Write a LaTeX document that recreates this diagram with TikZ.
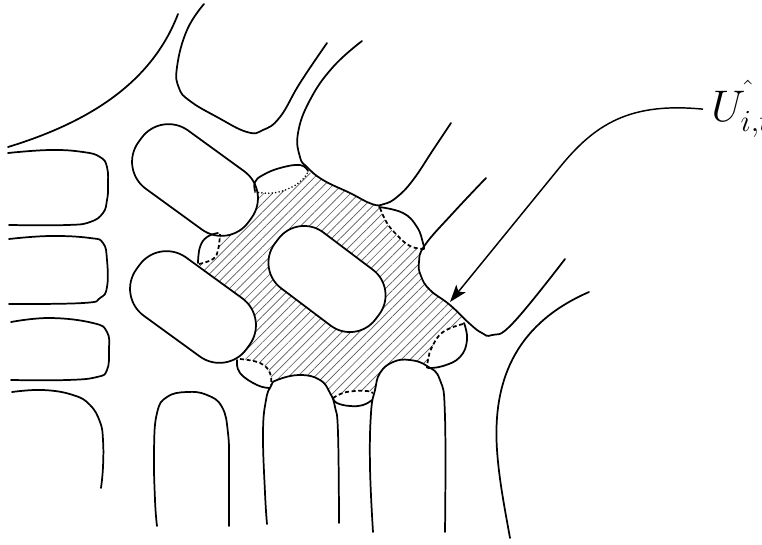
\documentclass[tikz,border=0pt]{standalone}
\usepackage{graphicx}
\usetikzlibrary{arrows.meta, patterns.meta}

\begin{document}
\begin{tikzpicture}[
    x=0.75pt, y=-0.75pt, tension=0.75,
    outline/.style={line width=1.3pt, line cap=round, line join=round},
    rim/.style={line width=1.3pt, dash pattern=on 3pt off 2pt},
    dotrim/.style={line width=1.3pt, line cap=round, dash pattern=on 0pt off 2.6pt},
    hatch/.style={pattern={Lines[angle=45, distance=4.6pt, line width=0.5pt]}, pattern color=black!65},
    oval/.style={outline, fill=white, rounded corners=25pt},
    arrow/.style={-{Stealth[length=13pt, width=9pt, inset=3pt]}, line width=1.1pt},
    lbl/.style={font=\huge, inner xsep=6pt, inner ysep=0pt}
  ]
    \useasboundingbox (0,0) rectangle (762,544);

    % hatched part of the cell
    \fill[hatch] plot[smooth] coordinates {(255,192) (273,193) (290,188) (302,180) (308,172)}
      -- (340,180) -- (378,200)
      -- plot[smooth] coordinates {(380,208) (387,223) (397,235) (410,246) (424,249)}
      -- (435,262) -- (448,290) -- (465,315)
      -- plot[smooth] coordinates {(463,324) (443,332) (432,347) (428,360) (427,368)}
      -- (415,372) -- (385,385)
      -- plot[smooth] coordinates {(373,393) (367,391) (355,391) (343,393) (333,398)}
      -- (320,392) -- (285,390) -- (272,392)
      -- plot[smooth] coordinates {(271,385) (270,373) (260,363) (240,359)}
      -- (235,340) -- (215,300) -- (205,280)
      -- plot[smooth] coordinates {(199,264) (213,259) (218,250) (220,234)}
      -- (235,220) -- (245,200) -- cycle;

    \fill[white] plot[smooth] coordinates {(362,41) (333,67) (310,100) (298,133) (300,157) (307,167) (323,180) (350,193) (372,204) (384,204) (397,197) (413,180) (433,150) (451,123)} -- cycle;
    \fill[white] plot[smooth] coordinates {(486,178) (453,213) (425,245) (419,262) (421,276) (430,290) (450,305) (470,324) (482,333) (492,335) (513,323) (565,259)} -- cycle;
    \fill[white] plot[smooth] coordinates {(267,524) (265,493) (263,433) (266,400) (271,386) (277,380) (300,375) (320,380) (330,393) (335,407) (338,433) (339,523)} -- cycle;
    \fill[white] plot[smooth] coordinates {(373,532) (370,467) (371,413) (375,390) (380,373) (393,362) (410,360) (427,366) (440,380) (445,417) (445,532)} -- cycle;

    % ovals
    \draw[oval, rotate around={-36:(195,180)}] (127,144) rectangle (263,216);
    \draw[oval, rotate around={-36:(193,307)}] (125,271) rectangle (261,343);
    \draw[oval, rounded corners=24pt, rotate around={-37:(327,279)}] (264,244) rectangle (390,314);

    % top
    \draw[outline] (8,147) .. controls (90,122) and (152,82) .. (178,14);
    \draw[outline] plot[smooth] coordinates {(204,4) (187,30) (177,67) (179,88) (190,101) (217,117) (247,132) (263,130) (280,117) (300,83) (327,43)};
    \draw[outline] plot[smooth] coordinates {(362,41) (333,67) (310,100) (298,133) (300,157) (307,167) (323,180) (350,193) (372,204) (384,204) (397,197) (413,180) (433,150) (451,123)};
    \draw[outline] plot[smooth] coordinates {(486,178) (453,213) (425,245) (419,262) (421,276) (430,290) (450,305) (470,324) (482,333) (492,335) (513,323) (565,259)};
    \draw[outline] (589,292) .. controls (520,322) and (492,375) .. (497,450) .. controls (499,480) and (505,510) .. (510,538);

    % left
    \draw[outline] plot[smooth] coordinates {(8,153) (50,150) (83,152) (100,157) (107,167) (108,187) (107,200) (103,213) (90,222) (67,225) (9,225)};
    \draw[outline] plot[smooth] coordinates {(9,239) (50,236) (90,238) (103,243) (107,260) (107,287) (100,298) (83,303) (9,304)};
    \draw[outline] plot[smooth] coordinates {(11,322) (50,318) (93,323) (107,332) (109,350) (107,370) (97,377) (67,380) (11,380)};
    \draw[outline] plot[smooth] coordinates {(12,392) (43,390) (73,395) (90,405) (100,422) (103,440) (103,467) (101,488)};

    % bottom
    \draw[outline] plot[smooth] coordinates {(157,526) (155,500) (154,450) (157,413) (167,397) (187,392) (207,395) (222,407) (228,433) (229,467) (229,526)};
    \draw[outline] plot[smooth] coordinates {(267,524) (265,493) (263,433) (266,400) (271,386) (277,380) (300,375) (320,380) (330,393) (335,407) (338,433) (339,523)};
    \draw[outline] plot[smooth] coordinates {(373,532) (370,467) (371,413) (375,390) (380,373) (393,362) (410,360) (427,366) (440,380) (445,417) (445,532)};

    % bulges
    \draw[outline] plot[smooth] coordinates {(255,191) (255,182) (263,175) (280,168) (300,165) (308,171)};
    \draw[dotrim] plot[smooth] coordinates {(255,192) (273,193) (290,188) (302,180) (308,172)};
    \draw[outline] plot[smooth] coordinates {(379,207) (403,213) (417,227) (423,243) (424,249)};
    \draw[rim] plot[smooth] coordinates {(380,208) (387,223) (397,235) (410,246) (424,249)};
    \draw[outline] plot[smooth] coordinates {(464,323) (467,340) (460,357) (443,366) (428,368)};
    \draw[rim] plot[smooth] coordinates {(463,324) (443,332) (432,347) (428,360) (427,368)};
    \draw[outline] plot[smooth] coordinates {(333,398) (337,403) (350,406) (363,405) (372,400)};
    \draw[rim] plot[smooth] coordinates {(333,398) (343,393) (355,391) (367,391) (373,393)};
    \draw[outline] plot[smooth] coordinates {(237,360) (240,373) (257,385) (270,388)};
    \draw[rim] plot[smooth] coordinates {(240,359) (260,363) (270,373) (271,385)};
    \draw[outline] plot[smooth] coordinates {(198,263) (200,247) (207,237) (218,233)};
    \draw[rim] plot[smooth] coordinates {(199,264) (213,259) (218,250) (220,234)};

    \node[lbl, anchor=base west] (lbl) at (703,121) {\scalebox{1.6}{$U^{\raisebox{1.5pt}{$\scriptstyle\hat{\,}$}}_{i,t}$}};
    \coordinate (tip) at (450,302);
    \draw[arrow] (lbl.west) .. controls (630,102) and (595,124) .. (560,167) -- (tip);
\end{tikzpicture}
\end{document}
